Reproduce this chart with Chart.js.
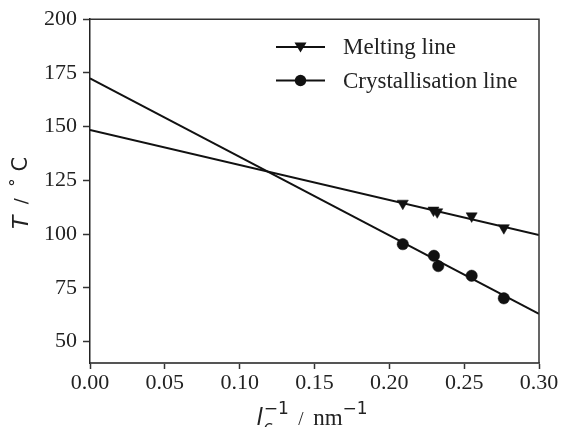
<!DOCTYPE html>
<html><head><meta charset="utf-8">
<script src="https://cdn.jsdelivr.net/npm/chart.js@4/dist/chart.umd.min.js"></script>
<style>html,body{margin:0;padding:0;background:#fff}#wrap{width:562px;height:427px}</style>
</head><body><div id="wrap"><canvas id="c" width="562" height="427"></canvas></div>
<script>
const meltX = [0.209, 0.2295, 0.232, 0.255, 0.2765];
const meltT = [114.3, 111.1, 110.3, 108.4, 102.9];
const crystX = [0.209, 0.2298, 0.2327, 0.255, 0.2765];
const crystT = [95.3, 89.9, 85.1, 80.6, 70.1];
const fitX = [0.0, 0.30];
const meltFitT = [148.4, 99.5];
const crystFitT = [172.5, 62.9];
const xTicks = [0.00, 0.05, 0.10, 0.15, 0.20, 0.25, 0.30];
const yTicks = [50, 75, 100, 125, 150, 175, 200];
const legendLabels = ['Melting line', 'Crystallisation line'];

const pts = (xs, ys) => xs.map((x, i) => ({x, y: ys[i]}));
const SERIF = '"Liberation Serif", "Times New Roman", serif';
const SANS = '"DejaVu Sans", sans-serif';

const extras = {
  id: 'extras',
  afterDraw(chart) {
    const ctx = chart.ctx, a = chart.chartArea;
    ctx.save();
    // frame (top & right)
    ctx.strokeStyle = '#333'; ctx.lineWidth = 1.5;
    ctx.beginPath();
    ctx.moveTo(a.left, a.top); ctx.lineTo(a.right, a.top); ctx.lineTo(a.right, a.bottom);
    ctx.stroke();
    // legend
    const items = [{y: 47, style: 'tri'}, {y: 80.5, style: 'circ'}];
    items.forEach((it, i) => {
      ctx.strokeStyle = '#111'; ctx.lineWidth = 2;
      ctx.beginPath(); ctx.moveTo(276, it.y); ctx.lineTo(325, it.y); ctx.stroke();
      ctx.fillStyle = '#111';
      ctx.beginPath();
      if (it.style === 'tri') {
        ctx.moveTo(294.5, it.y - 4.5); ctx.lineTo(306.5, it.y - 4.5); ctx.lineTo(300.5, it.y + 5.5); ctx.closePath();
      } else {
        ctx.arc(300.5, it.y, 5.7, 0, Math.PI * 2);
      }
      ctx.fill();
      ctx.font = '23px ' + SERIF; ctx.textBaseline = 'middle'; ctx.textAlign = 'left';
      ctx.fillStyle = '#222';
      ctx.fillText(legendLabels[i], 343, it.y + 1);
    });
    // y title
    ctx.save();
    ctx.translate(22, 193); ctx.rotate(-Math.PI / 2);
    ctx.textBaseline = 'middle'; ctx.textAlign = 'left'; ctx.fillStyle = '#222';
    const parts = [['T', 'italic 22px ' + SANS, 0], ['  /  ', '18px ' + SANS, 0], ['°', '17px ' + SANS, -4], [' C', '21px ' + SANS, 0]];
    let w = 0; parts.forEach(p => { ctx.font = p[1]; w += ctx.measureText(p[0]).width; });
    let x = -w / 2;
    parts.forEach(p => { ctx.font = p[1]; ctx.fillText(p[0], x, p[2]); x += ctx.measureText(p[0]).width; });
    ctx.restore();
    // x title
    ctx.textBaseline = 'alphabetic'; ctx.textAlign = 'left'; ctx.fillStyle = '#222';
    const base = 425;
    const seq = [
      ['l', 'italic 23px ' + SANS, 0],
      ['c', 'italic 16px ' + SANS, 7],
      ['−1', '17px ' + SANS, -11],
      ['  /  ', '19px ' + SERIF, 0],
      ['nm', '23px ' + SERIF, 0],
      ['−1', '17px ' + SANS, -11]
    ];
    const pos = [];
    let cx = 0;
    ctx.font = seq[0][1]; pos.push(0); cx = ctx.measureText('l').width + 1;
    pos.push(cx); ctx.font = seq[1][1]; const cw = ctx.measureText('c').width;
    pos.push(cx); ctx.font = seq[2][1]; const sw = ctx.measureText('−1').width;
    cx += Math.max(cw, sw);
    for (let i = 3; i < seq.length; i++) { pos.push(cx); ctx.font = seq[i][1]; cx += ctx.measureText(seq[i][0]).width; }
    const start = 312 - cx / 2;
    seq.forEach((s, i) => { ctx.font = s[1]; ctx.fillText(s[0], start + pos[i], base + s[2]); });
    ctx.restore();
  }
};

new Chart(document.getElementById('c'), {
  type: 'scatter',
  data: {
    datasets: [
      {label: 'meltFit', data: pts(fitX, meltFitT), showLine: true, borderColor: '#111', borderWidth: 2, pointRadius: 0, order: 2},
      {label: 'crystFit', data: pts(fitX, crystFitT), showLine: true, borderColor: '#111', borderWidth: 2, pointRadius: 0, order: 2},
      {label: legendLabels[0], data: pts(meltX, meltT), pointStyle: 'triangle', rotation: 180, pointRadius: 6.4, backgroundColor: '#111', borderColor: '#111', borderWidth: 0.5, order: 1},
      {label: legendLabels[1], data: pts(crystX, crystT), pointStyle: 'circle', pointRadius: 5.7, backgroundColor: '#111', borderColor: '#111', borderWidth: 0.5, order: 1}
    ]
  },
  options: {
    responsive: false, animation: false,
    layout: {padding: {top: 18, right: 23, left: 0, bottom: 0}},
    plugins: {legend: {display: false}, tooltip: {enabled: false}},
    scales: {
      x: {
        type: 'linear', min: 0, max: 0.30,
        afterBuildTicks: s => { s.ticks = xTicks.map(v => ({value: v})); },
        afterFit: s => { s.height = 64; },
        ticks: {font: {family: SERIF, size: 22}, color: '#222', padding: 1, callback: v => v.toFixed(2), maxRotation: 0, autoSkip: false},
        grid: {drawOnChartArea: false, tickLength: 6, color: '#333', tickWidth: 1.5},
        border: {color: '#555', width: 2}
      },
      y: {
        type: 'linear', min: 40, max: 200,
        afterBuildTicks: s => { s.ticks = yTicks.map(v => ({value: v})); },
        afterFit: s => { s.width = 90; },
        ticks: {font: {family: SERIF, size: 22}, color: '#222', padding: 6, autoSkip: false},
        grid: {drawOnChartArea: false, tickLength: 7, color: '#333', tickWidth: 1.5},
        border: {color: '#222', width: 1.5}
      }
    }
  },
  plugins: [extras]
});
</script></body></html>
